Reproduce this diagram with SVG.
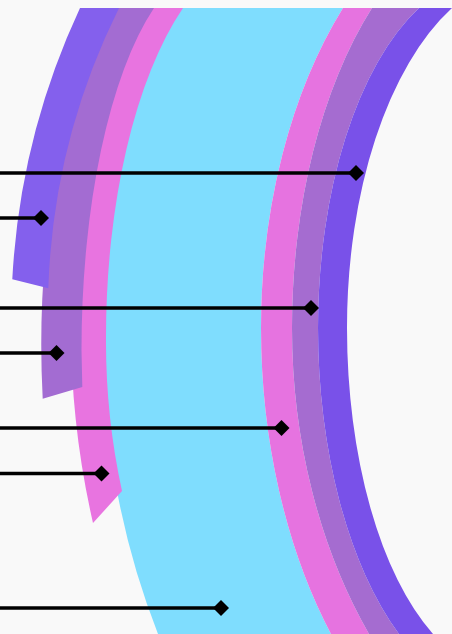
<svg xmlns="http://www.w3.org/2000/svg" width="452" height="634" viewBox="0 0 452 634">
  <style>
    .aqua { fill: #7fddfe; }
    .pink { fill: #e874e0; }
    .pink-in { fill: #e673e0; }
    .orchid { fill: #a36cd2; }
    .orchid-in { fill: #a56cd0; }
    .violet { fill: #8460ed; }
    .violet-in { fill: #7951e9; }
    .leader { fill: none; stroke: #000; stroke-width: 3.5; marker-end: url(#diamond); }
  </style>
  <defs>
    <marker id="diamond" markerUnits="userSpaceOnUse" markerWidth="17" markerHeight="17" refX="8.5" refY="8.5" orient="0">
      <path d="M0.5 8.5 L8.5 0.5 L16.5 8.5 L8.5 16.5 Z" fill="#000"/>
    </marker>
  </defs>

  <rect width="452" height="634" fill="#f9f9f9"/>

  <!-- central aqua band -->
  <g id="band-aqua">
    <path class="aqua" d="M160,8 L343,8 A279,452 0 0 0 261,328 A300,477 0 0 0 331,634 L158,634 A796,796 0 0 1 117,491 L110,455 L102,400 L99,337 L103,260 L115,160 L135,90 Z"/>
  </g>

  <!-- inner bands on the right -->
  <g id="band-pink-inner">
    <path class="pink-in" d="M343,8 A279,452 0 0 0 261,328 A300,477 0 0 0 331,634 L369,634 A357,493 0 0 1 292,328 A230,422 0 0 1 372,8 Z"/>
  </g>
  <g id="band-orchid-inner">
    <path class="orchid-in" d="M372,8 A230,422 0 0 0 292,328 A357,493 0 0 0 369,634 L399,634 A184.4,369.6 0 0 1 318,328 A173,352 0 0 1 419,8 Z"/>
  </g>
  <g id="band-violet-inner">
    <path class="violet-in" d="M419,8 A173,352 0 0 0 318,328 A184.4,369.6 0 0 0 399,634 L433,634 A159.3,344.6 0 0 1 347,328 A184,354 0 0 1 452,8 Z"/>
  </g>

  <!-- outer sectors on the left -->
  <g id="sector-pink-outer">
    <path class="pink" d="M183,8 A162.4,386.8 0 0 0 106,337 A700,700 0 0 0 122,491 L93,523 A879,879 0 0 1 131,8 Z"/>
  </g>
  <g id="sector-orchid-outer">
    <path class="orchid" d="M154,8 A135,386 0 0 0 81.5,350 L82.3,387 L42.7,398.7 A1000,1000 0 0 1 100,8 Z"/>
  </g>
  <g id="sector-violet-outer">
    <path class="violet" d="M119,8 A681,681 0 0 0 48.3,288.3 L12.3,279.3 A734,734 0 0 1 80,8 Z"/>
  </g>

  <!-- leader lines -->
  <g id="leaders">
    <line class="leader" x1="-2" y1="173" x2="356" y2="173"/>
    <line class="leader" x1="-2" y1="218" x2="41" y2="218"/>
    <line class="leader" x1="-2" y1="308" x2="311" y2="308"/>
    <line class="leader" x1="-2" y1="353" x2="56.5" y2="353"/>
    <line class="leader" x1="-2" y1="428" x2="281.5" y2="428"/>
    <line class="leader" x1="-2" y1="473.5" x2="101.5" y2="473.5"/>
    <line class="leader" x1="-2" y1="608" x2="221" y2="608"/>
  </g>
</svg>
